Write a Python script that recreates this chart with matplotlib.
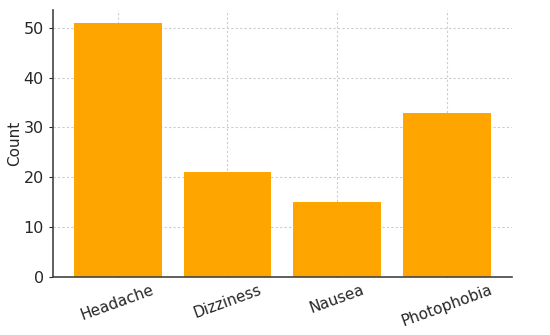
import matplotlib.pyplot as plt

symptoms = ["Headache", "Dizziness", "Nausea", "Photophobia"]
counts = [51, 21, 15, 33]

fig = plt.figure(figsize=(5.5, 3.35), dpi=100)
ax = fig.add_axes([0.096, 0.173, 0.835, 0.797])

ax.bar(symptoms, counts, color="#FFA500", width=0.8, zorder=2)
ax.set_ylabel("Count", fontsize=11, color="#262626", labelpad=1)
ax.grid(True, linestyle=(0, (2, 2)), color="#cccccc", linewidth=0.8, zorder=0)

ax.spines["top"].set_visible(False)
ax.spines["right"].set_visible(False)
for s in ["left", "bottom"]:
    ax.spines[s].set_color("#444444")
    ax.spines[s].set_linewidth(1.2)

ax.tick_params(axis="x", labelsize=11, colors="#262626", direction="in", length=4)
ax.tick_params(axis="y", labelsize=11.5, colors="#262626", direction="out", length=3)
plt.setp(ax.get_xticklabels(), rotation=20)

fig.savefig("out.png", dpi=100)
